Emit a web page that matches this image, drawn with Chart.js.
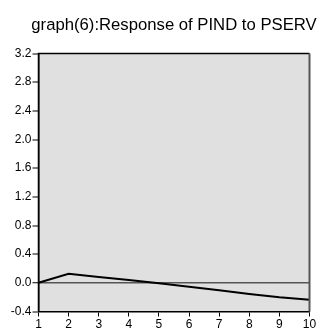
<!DOCTYPE html>
<html><head><meta charset="utf-8">
<script src="https://cdn.jsdelivr.net/npm/chart.js@4"></script>
<style>html,body{margin:0;padding:0;background:#fff}#wrap{width:320px;height:333px}</style>
</head><body><div id="wrap"><canvas id="c" width="320" height="333"></canvas></div>
<script>
const titleText = "graph(6):Response of PIND to PSERV";
const periods = ["1","2","3","4","5","6","7","8","9","10"];
const response = [0, 0.125, 0.08, 0.04, -0.005, -0.055, -0.105, -0.155, -0.2, -0.235];
const yMin = -0.4, yMax = 3.2, yStep = 0.4;
const tickFont = { family: '"Liberation Sans Narrow", "Arial Narrow", "Liberation Sans", Arial, sans-serif', size: 12 };

const bgPlugin = {
  id: 'bg',
  beforeDraw(chart) {
    const a = chart.chartArea, ctx = chart.ctx;
    ctx.save();
    ctx.fillStyle = '#e0e0e0';
    ctx.fillRect(a.left, a.top, a.right - a.left, a.bottom - a.top);
    ctx.restore();
  },
  afterDraw(chart) {
    const a = chart.chartArea, ctx = chart.ctx;
    ctx.save();
    ctx.strokeStyle = '#000';
    ctx.lineWidth = 1.5;
    ctx.beginPath();
    ctx.moveTo(a.left, a.bottom); ctx.lineTo(a.left, a.top); ctx.lineTo(a.right, a.top);
    ctx.stroke();
    ctx.strokeStyle = '#555';
    ctx.lineWidth = 2;
    ctx.beginPath();
    ctx.moveTo(a.right, a.top); ctx.lineTo(a.right, a.bottom);
    ctx.stroke();
    ctx.fillStyle = '#000';
    ctx.font = '16.7px "Liberation Sans", Arial, sans-serif';
    ctx.textAlign = 'center';
    ctx.textBaseline = 'alphabetic';
    ctx.fillText(titleText, (a.left + a.right) / 2, 29.5);
    ctx.restore();
  }
};

new Chart(document.getElementById('c'), {
  type: 'line',
  data: {
    labels: periods,
    datasets: [{
      data: response,
      borderColor: '#000',
      borderWidth: 2,
      pointRadius: 0,
      tension: 0,
      fill: false
    }]
  },
  options: {
    responsive: false,
    animation: false,
    layout: { padding: { top: 53.5, right: 10.5, left: 0, bottom: 0 } },
    plugins: { legend: { display: false }, tooltip: { enabled: false }, title: { display: false } },
    scales: {
      x: {
        offset: false,
        border: { display: true, color: '#000', width: 1.5 },
        grid: { drawOnChartArea: false, tickLength: 5, color: '#000', tickColor: '#000' },
        ticks: { color: '#000', font: tickFont, padding: 1, maxRotation: 0, autoSkip: false },
        afterFit(s) { s.height = 21.5; }
      },
      y: {
        min: yMin, max: yMax,
        border: { display: true, color: '#000', width: 1.5 },
        grid: {
          drawOnChartArea: true,
          tickLength: 6,
          color: (c) => (c.tick && Math.abs(c.tick.value) < 1e-9) ? '#555' : 'rgba(0,0,0,0)',
          lineWidth: (c) => (c.tick && Math.abs(c.tick.value) < 1e-9) ? 1.5 : 0,
          tickColor: '#000', tickWidth: 1
        },
        ticks: {
          stepSize: yStep, color: '#000', padding: 1,
          font: tickFont,
          callback: (v) => v.toFixed(1)
        },
        afterFit(s) { s.width = 38.5; }
      }
    }
  },
  plugins: [bgPlugin]
});
</script>
</body></html>
